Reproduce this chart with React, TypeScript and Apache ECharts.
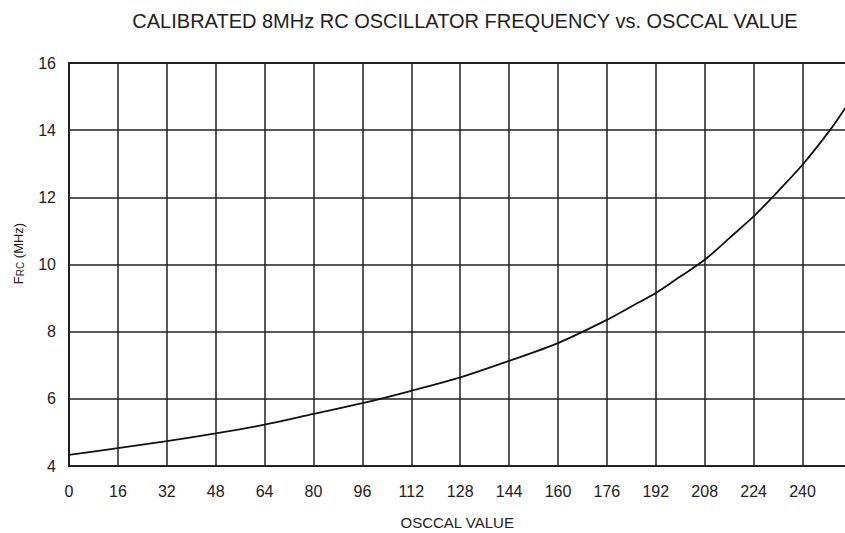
import React, { useEffect, useRef } from "react";
import * as echarts from "echarts";

const TITLE = "CALIBRATED 8MHz RC OSCILLATOR FREQUENCY vs. OSCCAL VALUE";
const X_NAME = "OSCCAL VALUE";
const osccal = [0, 16, 32, 48, 64, 80, 96, 112, 128, 144, 160, 176, 184, 192, 200, 208, 216, 224, 232, 240, 249, 254];
const freqMHz = [4.33, 4.53, 4.74, 4.97, 5.23, 5.55, 5.87, 6.24, 6.64, 7.13, 7.66, 8.35, 8.75, 9.15, 9.64, 10.14, 10.78, 11.43, 12.18, 12.97, 14.0, 14.66];
const xTicks = [0, 16, 32, 48, 64, 80, 96, 112, 128, 144, 160, 176, 192, 208, 224, 240];

export default function App() {
  const ref = useRef<HTMLDivElement>(null);
  useEffect(() => {
    if (!ref.current) return;
    const chart = echarts.init(ref.current, undefined, { renderer: "svg" });
    const font = "'Liberation Sans', Arial, sans-serif";
    const ink = "#222";
    chart.setOption({
      animation: false,
      backgroundColor: "#fff",
      title: {
        text: TITLE,
        left: 460,
        textAlign: "center",
        top: 6,
        textStyle: { fontFamily: font, fontSize: 20, fontWeight: "normal", color: ink },
      },
      grid: {
        left: 69,
        top: 63,
        width: 782.4,
        height: 403,
        show: true,
        borderColor: ink,
        borderWidth: 2,
        containLabel: false,
        outerBoundsMode: "none",
      },
      xAxis: {
        type: "value",
        min: 0,
        max: 256,
        interval: 16,
        name: X_NAME,
        nameLocation: "middle",
        nameGap: 49,
        nameTextStyle: { fontFamily: font, fontSize: 15, color: ink, padding: [0, 6, 0, 0] },
        axisLine: { show: true, lineStyle: { color: ink, width: 2 } },
        axisTick: { show: false },
        axisLabel: {
          fontFamily: font,
          fontSize: 16,
          color: ink,
          margin: 17,
          formatter: (v: number) => (xTicks.includes(v) ? String(v) : ""),
        },
        splitLine: { show: true, lineStyle: { color: ink, width: 1.5 } },
      },
      yAxis: {
        type: "value",
        min: 4,
        max: 16,
        interval: 2,
        name: "{a|F}{b|RC} (MHz)",
        nameLocation: "middle",
        nameGap: 44,
        nameRotate: 90,
        nameTextStyle: {
          fontFamily: font,
          fontSize: 13,
          color: ink,
          padding: [0, 0, 0, 22],
          rich: {
            a: { fontFamily: font, fontSize: 13, color: ink },
            b: { fontFamily: font, fontSize: 10, color: ink, padding: [4, 0, 0, 0] },
          },
        },
        axisLine: { show: true, lineStyle: { color: ink, width: 2 } },
        axisTick: { show: false },
        axisLabel: { fontFamily: font, fontSize: 16, color: ink, margin: 13 },
        splitLine: { show: true, lineStyle: { color: ink, width: 1.5 } },
      },
      series: [
        {
          type: "line",
          data: osccal.map((x, i) => [x, freqMHz[i]]),
          smooth: 0.3,
          showSymbol: false,
          lineStyle: { color: "#111", width: 1.8 },
        },
      ],
    });
    return () => chart.dispose();
  }, []);
  return (
    <div
      ref={ref}
      style={{ position: "fixed", left: 0, top: 0, width: 845, height: 533, background: "#fff" }}
    />
  );
}
